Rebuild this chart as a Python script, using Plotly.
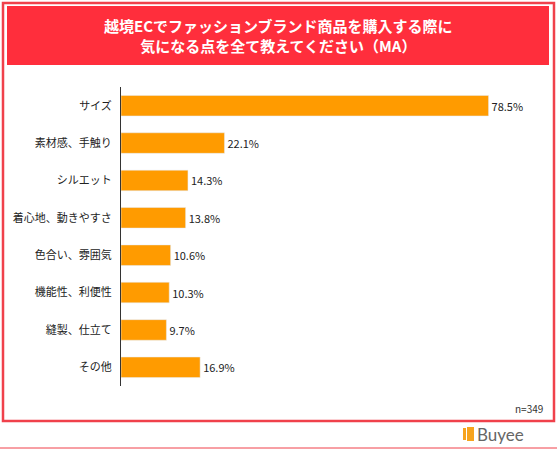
import plotly.graph_objects as go

categories = ["サイズ", "素材感、手触り", "シルエット", "着心地、動きやすさ", "色合い、雰囲気", "機能性、利便性", "縫製、仕立て", "その他"]
values = [78.5, 22.1, 14.3, 13.8, 10.6, 10.3, 9.7, 16.9]
labels = [f"{v}%" for v in values]

W, H = 557, 450
def px(x): return x / W
def py(y): return 1 - y / H

FONT = "Noto Sans CJK JP"
fig = go.Figure(go.Bar(
    y=categories, x=values, orientation="h", marker_color="#FF9B00",
    text=labels, textposition="outside", cliponaxis=False,
    textfont=dict(family=FONT, size=11, color="#222"),
))
fig.update_layout(
    width=W, height=H, margin=dict(l=0, r=0, t=0, b=0),
    paper_bgcolor="white", plot_bgcolor="white", showlegend=False,
    bargap=0.45, font=dict(family=FONT),
    xaxis=dict(domain=[px(121), px(519)], range=[0, 85], visible=False),
    yaxis=dict(domain=[py(386), py(87)], autorange="reversed",
               showline=True, linecolor="#333", linewidth=1, ticks="",
               tickfont=dict(family=FONT, size=11, color="#222"), ticklabelstandoff=6),
    shapes=[
        dict(type="rect", xref="paper", yref="paper", x0=px(3), x1=px(554), y0=py(421), y1=py(3),
             line=dict(color="#F0414B", width=2.5), fillcolor="rgba(0,0,0,0)"),
        dict(type="rect", xref="paper", yref="paper", x0=px(7), x1=px(549), y0=py(65), y1=py(6),
             line=dict(width=0), fillcolor="#FF2E3C"),
        dict(type="rect", xref="paper", yref="paper", x0=px(463), x1=px(466), y0=py(440), y1=py(428),
             line=dict(width=0), fillcolor="#F7A41D"),
        dict(type="rect", xref="paper", yref="paper", x0=px(467), x1=px(474), y0=py(441), y1=py(427),
             line=dict(width=0), fillcolor="#F7A41D"),
        dict(type="line", xref="paper", yref="paper", x0=0, x1=1, y0=py(448), y1=py(448),
             line=dict(color="#F0414B", width=1)),
    ],
    annotations=[
        dict(text="越境ECでファッションブランド商品を購入する際に<br>気になる点を全て教えてください（MA）",
             xref="paper", yref="paper", x=px(278), y=py(36), xanchor="center", yanchor="middle",
             showarrow=False, font=dict(family=FONT, size=15, color="white", weight="bold"), align="center"),
        dict(text="n=349", xref="paper", yref="paper", x=px(545), y=py(408), xanchor="right", yanchor="middle",
             showarrow=False, font=dict(family=FONT, size=10, color="#333")),
        dict(text="Buyee", xref="paper", yref="paper", x=px(475), y=py(434), xanchor="left", yanchor="middle",
             showarrow=False, font=dict(family="Lato", size=17, color="#666")),
    ],
)
fig.write_html("out.html", config={"displayModeBar": False},
               post_script="document.body.style.margin='0';")
